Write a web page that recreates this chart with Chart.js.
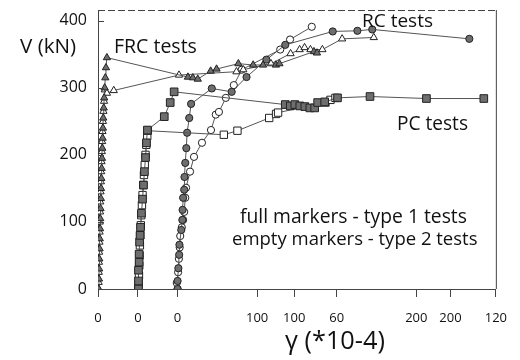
<!DOCTYPE html>
<html>
<head>
<meta charset="utf-8">
<script src="https://cdn.jsdelivr.net/npm/chart.js@4/dist/chart.umd.min.js"></script>
<style>
html, body { margin: 0; padding: 0; background: #fff; }
canvas { display: block; }
</style>
</head>
<body>
<canvas id="chart" width="520" height="360"></canvas>
<script>
const FONT = '"Comic Sans MS", "Open Sans", sans-serif';

// each test family has its own gamma origin along the bottom axis
const frcRange = [0, 250];
const pcRange = [-25.5, 229];
const rcRange = [-30, 120];
const frcTicks = [0, 100, 200];
const pcTicks = [0, 100, 200];
const rcTicks = [0, 60, 120];
const vTicks = [0, 100, 200, 300, 400];

// FRC tests (triangles)
const frc1Gamma = [0.5, 0.6, 0.7, 0.8, 1.0, 1.1, 1.3, 1.4, 1.6, 1.8, 1.9, 2.1, 2.3, 2.5, 2.7, 2.9, 3.1, 3.3, 3.6, 3.9, 4.2, 4.6, 5.0, 5.6,
  56.5, 59.6, 62.7, 70.8, 74.5, 88.2, 97.5, 103.7, 111.8, 114, 135.7, 137.6];
const frc1V = [0, 15, 30, 45, 60, 75, 90, 105, 120, 135, 150, 165, 180, 195, 210, 225, 240, 255, 270, 285, 300, 315, 330, 345,
  316, 315, 313, 325, 328, 336, 334, 334, 334, 336, 354, 352];
const frc2Gamma = [0.3, 0.4, 0.5, 0.6, 0.7, 0.9, 1.0, 1.1, 1.3, 1.4, 1.6, 1.8, 2.0, 2.2, 2.4, 2.6, 2.8, 3.1, 3.4, 3.8, 4.3,
  5.6, 9.9, 50.9, 87, 91.3, 108.7, 121, 126.7, 129.8, 133.5, 141, 153.4, 173.3];
const frc2V = [0, 10, 25, 40, 55, 70, 85, 100, 115, 130, 145, 160, 175, 190, 205, 220, 235, 250, 265, 280, 297,
  292, 296, 319, 324, 327, 336, 351, 357, 360, 357, 357, 373, 375];

// PC tests (squares)
const pc1Gamma = [0.4, 0.4, 0.4, 0.8, 0.8, 1.1, 1.4, 1.7, 2.3, 3.0, 3.6, 4.2, 4.9, 5.5, 6.1, 16.9, 20.7, 23.2,
  94.3, 97.5, 100.4, 103.6, 106.8, 110, 113.1, 115, 119.5, 127.7, 148.5, 184.6, 221.3];
const pc1V = [0, 12, 28, 40, 52, 70, 80, 92, 113, 134, 155, 175, 196, 218, 237, 257, 278, 294,
  275, 273, 275, 273, 272, 270, 270, 278, 279, 285, 287, 284, 284];
const pc2Gamma = [0.3, 0.5, 0.7, 0.9, 1.1, 1.3, 1.6, 1.9, 2.2, 2.6, 3.0, 3.4, 3.9, 4.4, 4.9, 5.4, 6.0, 6.4,
  55, 63.7, 84, 88.4, 89.7, 120, 123.2, 126.4];
const pc2V = [0, 8, 20, 35, 50, 65, 80, 95, 110, 125, 140, 155, 170, 185, 200, 215, 228, 236,
  230, 236, 255, 261, 263, 278, 282, 285];

// RC tests (circles)
const rc1Gamma = [0, 0, 0.3, 0.6, 0.7, 1.4, 1.8, 1.9, 2.1, 2.5, 2.6, 2.9, 3.3, 3.6, 4.4, 5.1, 12.9, 20.4, 26, 33.5, 40.6, 58.5, 67.8, 73.4, 110];
const rc1V = [0, 12, 31, 51, 66, 88, 103, 118, 136, 148, 167, 188, 210, 233, 255, 276, 299, 294, 316, 342, 364, 384, 385, 387, 373];
const rc2Gamma = [0, -0.3, 0.2, 0.5, 0.8, 1.0, 1.6, 2.1, 2.5, 2.9, 3.2, 4.7, 6.2, 9.2, 12.6, 14.4, 15.6, 18.2, 21.2, 24.2, 38.7, 42.4, 50.6];
const rc2V = [0, 9, 25, 45, 62, 79, 92, 103, 115, 136, 151, 175, 197, 218, 237, 260, 264, 285, 304, 327, 357, 372, 391];

function toFrc(v, range) {
  return frcRange[0] + (v - range[0]) / (range[1] - range[0]) * (frcRange[1] - frcRange[0]);
}

const bottomTicks = [
  ...frcTicks.map(v => ({ value: v, label: String(v) })),
  ...pcTicks.map(v => ({ value: toFrc(v, pcRange), label: String(v) })),
  ...rcTicks.map(v => ({ value: toFrc(v, rcRange), label: String(v) }))
].sort((a, b) => a.value - b.value);

function series(label, gx, v, style, filled, axis, r) {
  return {
    label,
    data: gx.map((g, i) => ({ x: g, y: v[i] })),
    xAxisID: axis,
    showLine: true,
    borderColor: '#555',
    borderWidth: 1,
    pointStyle: style,
    pointRadius: r,
    pointBackgroundColor: filled ? '#6e6e6e' : '#fff',
    pointBorderColor: '#222',
    pointBorderWidth: 1
  };
}

const notes = [
  { text: 'V (kN)', x: 20, y: 47, w: 56, size: 21 },
  { text: 'FRC tests', x: 114, y: 47, w: 83, size: 18 },
  { text: 'RC tests', x: 362, y: 22, w: 71, size: 18 },
  { text: 'PC tests', x: 397, y: 125, w: 71, size: 18 },
  { text: 'full markers - type 1 tests', x: 240, y: 218, w: 227, size: 17 },
  { text: 'empty markers - type 2 tests', x: 232, y: 240, w: 246, size: 17 },
  { text: 'γ (*10-4)', x: 285, y: 342, w: 105, size: 22 }
];

function fitText(ctx, n) {
  ctx.font = n.size + 'px ' + FONT;
  const m = ctx.measureText(n.text).width;
  const s = n.size * Math.min(1.15, Math.max(0.85, n.w / m));
  ctx.font = s.toFixed(1) + 'px ' + FONT;
  ctx.fillText(n.text, n.x, n.y);
}

const decor = {
  id: 'decor',
  afterDraw(chart) {
    const { ctx, chartArea: a, scales } = chart;
    ctx.save();
    ctx.strokeStyle = '#444';
    ctx.lineWidth = 1;
    ctx.setLineDash([7, 3]);
    ctx.beginPath();
    ctx.moveTo(a.left, a.top + 0.5);
    ctx.lineTo(a.right, a.top + 0.5);
    ctx.stroke();
    ctx.setLineDash([]);
    ctx.beginPath();
    ctx.moveTo(a.right + 0.5, a.top);
    ctx.lineTo(a.right + 0.5, a.bottom);
    ctx.stroke();
    // short inward ticks on the V axis
    vTicks.forEach(v => {
      const y = Math.round(scales.y.getPixelForValue(v)) + 0.5;
      ctx.beginPath();
      ctx.moveTo(a.left, y);
      ctx.lineTo(a.left + 6, y);
      ctx.stroke();
    });
    ctx.fillStyle = '#111';
    ctx.textBaseline = 'middle';
    ctx.textAlign = 'left';
    notes.forEach(n => fitText(ctx, n));
    ctx.restore();
  }
};

new Chart(document.getElementById('chart'), {
  type: 'scatter',
  data: {
    datasets: [
      series('FRC type 1', frc1Gamma, frc1V, 'triangle', true, 'x', 4.2),
      series('FRC type 2', frc2Gamma, frc2V, 'triangle', false, 'x', 4.2),
      series('PC type 1', pc1Gamma, pc1V, 'rect', true, 'xPC', 5.4),
      series('PC type 2', pc2Gamma, pc2V, 'rect', false, 'xPC', 5.2),
      series('RC type 1', rc1Gamma, rc1V, 'circle', true, 'xRC', 3.6),
      series('RC type 2', rc2Gamma, rc2V, 'circle', false, 'xRC', 3.6)
    ]
  },
  options: {
    responsive: false,
    animation: false,
    layout: { padding: { top: 10, right: 20, left: 0, bottom: 0 } },
    plugins: { legend: { display: false }, tooltip: { enabled: false } },
    scales: {
      x: {
        type: 'linear',
        position: 'bottom',
        min: frcRange[0],
        max: frcRange[1],
        afterBuildTicks: scale => { scale.ticks = bottomTicks.map(t => ({ value: t.value })); },
        afterFit: scale => { scale.height = 71; },
        grid: { drawOnChartArea: false, drawTicks: true, tickLength: 8, color: '#444' },
        border: { display: true, color: '#444' },
        ticks: {
          autoSkip: false,
          maxRotation: 0,
          padding: 13,
          color: '#111',
          font: { family: FONT, size: 13 },
          callback: (val, i) => bottomTicks[i] ? bottomTicks[i].label : ''
        }
      },
      xPC: { type: 'linear', display: false, min: pcRange[0], max: pcRange[1] },
      xRC: { type: 'linear', display: false, min: rcRange[0], max: rcRange[1] },
      y: {
        min: 0,
        max: 416,
        afterBuildTicks: scale => { scale.ticks = vTicks.map(v => ({ value: v })); },
        afterFit: scale => { scale.width = 98; scale.paddingTop = 0; scale.paddingBottom = 0; },
        grid: { drawOnChartArea: false, drawTicks: false },
        border: { display: true, color: '#444' },
        ticks: { padding: 11, color: '#111', font: { family: FONT, size: 16 } }
      }
    }
  },
  plugins: [decor]
});
</script>
</body>
</html>
